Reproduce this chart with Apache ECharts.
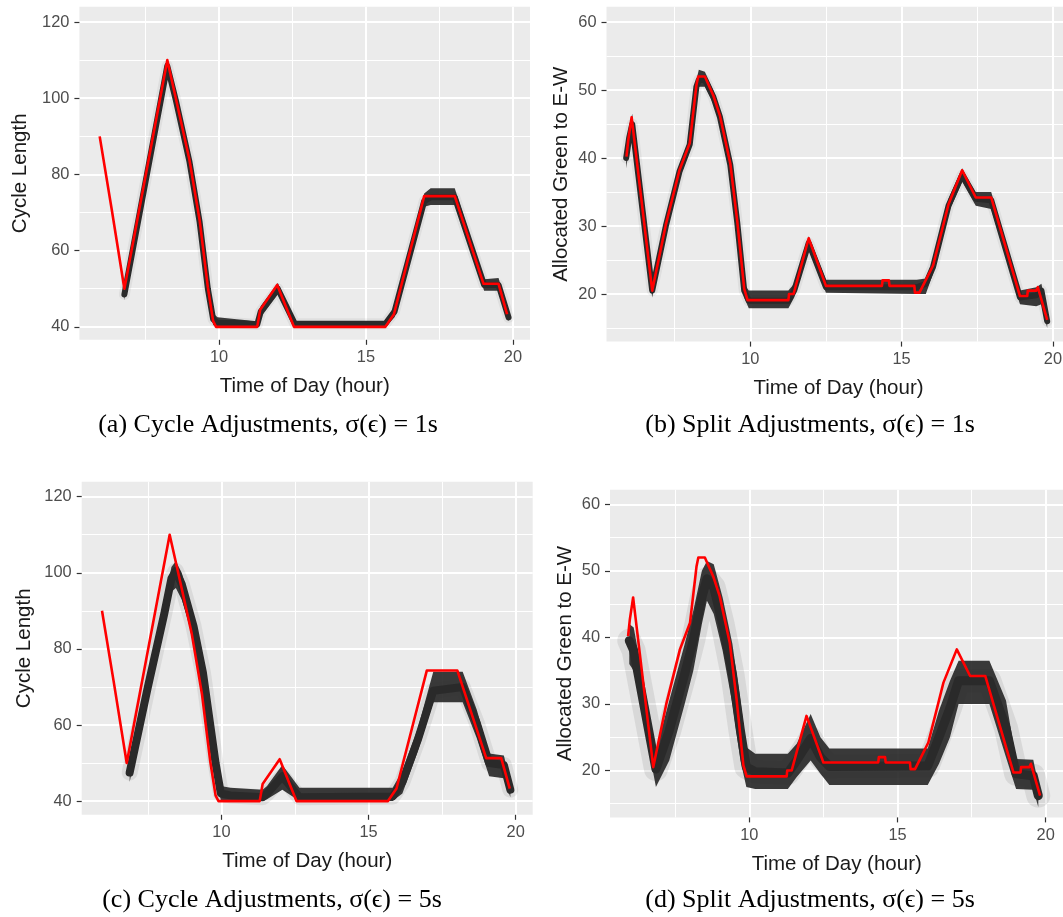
<!DOCTYPE html>
<html>
<head>
<meta charset="utf-8">
<title>Cycle and split adjustments</title>
<script src="https://cdn.jsdelivr.net/npm/echarts@6/dist/echarts.min.js"></script>
<style>
  html, body { margin: 0; padding: 0; background: #fff; }
  #chart { width: 1063px; height: 917px; }
</style>
</head>
<body>
<div id="chart"></div>
<script>
// red line: planned timing, same plan in (a)/(c) and in (b)/(d)
const cycleHour = [5.94, 6.35, 6.78, 8.24, 8.53, 8.99, 9.34, 9.62, 9.8, 9.9, 11.3, 11.4, 11.98, 12.55, 15.66, 15.95, 16.98, 18.02, 19.0, 19.51, 19.8]
const cycleRed = [90, 70.8, 50, 110, 100, 84, 68, 50.4, 41.5, 40, 40, 44.5, 51, 40, 40, 43.3, 74.3, 74.3, 51.3, 51.3, 43.3]

const splitHour = [5.91, 5.97, 6.08, 6.76, 7.21, 7.66, 8.0, 8.22, 8.28, 8.5, 8.78, 9.0, 9.34, 9.57, 9.8, 9.91, 11.26, 11.28, 11.43, 11.93, 12.5, 14.35, 14.37, 14.58, 14.6, 15.42, 15.44, 15.59, 15.76, 16.04, 16.55, 17.0, 17.45, 17.96, 18.91, 19.15, 19.17, 19.45, 19.5, 19.81]
const splitRed = [40.2, 42.7, 46, 20.5, 30.2, 38.2, 42.2, 50.7, 52, 52, 49.2, 46.2, 39.2, 30.7, 20.75, 19.1, 19.1, 20, 20, 28.2, 21.2, 21.2, 22, 22, 21.2, 21.2, 20.2, 20.2, 21.7, 24.2, 33.2, 38.2, 34.2, 34.2, 19.7, 19.7, 20.5, 20.5, 21, 16.2]

// black cloud of simulated runs: middle, lower and upper edge
const aHour = [6.78, 8.24, 8.53, 8.99, 9.34, 9.62, 9.8, 9.95, 10.6, 11.3, 11.42, 12.0, 12.58, 15.66, 15.97, 16.98, 17.2, 18.02, 19.02, 19.51, 19.85]
const aMid = [48.5, 108.5, 99.5, 83.5, 67.5, 50, 42, 41, 41, 40.6, 44, 50, 40.8, 40.8, 44, 73, 74, 74, 51, 51, 42.5]
const aLo = [47, 107, 98, 82, 66, 48.5, 40.5, 40, 40, 40, 42.5, 48.5, 40, 40, 42.5, 71.5, 72, 72, 49.5, 49.5, 41.5]
const aHi = [50, 110, 101, 85, 69, 51.5, 43.5, 42.5, 42, 41.5, 45.5, 51.5, 41.5, 41.5, 45.5, 75, 76.4, 76.4, 52.5, 52.8, 44]

const bHour = [5.9, 6.0, 6.1, 6.76, 7.21, 7.66, 8.0, 8.22, 8.3, 8.5, 8.78, 9.0, 9.34, 9.57, 9.8, 9.95, 11.26, 11.45, 11.93, 12.5, 15.5, 15.8, 16.04, 16.55, 17.0, 17.45, 17.96, 18.91, 19.45, 19.62, 19.81]
const bMid = [40, 43, 45, 20.5, 30, 38, 42, 50.5, 51.5, 51.5, 49, 46, 39, 30.5, 20.5, 19, 19, 20.5, 27.5, 21, 21, 21.5, 24, 33, 37.5, 34, 33.8, 19.5, 19.8, 20.5, 16]
const bLo = [38.5, 41.5, 43.5, 19.5, 29, 37, 41, 49.5, 50.5, 50.5, 48, 45, 38, 29.5, 19.5, 17.9, 17.9, 19.5, 26.5, 20.2, 20, 20, 23, 32, 36.5, 33, 32.5, 18.5, 18.2, 18.5, 15]
const bHi = [41.5, 44.5, 46.5, 21.5, 31, 39, 43, 51.5, 53, 52.7, 50, 47, 40, 31.5, 21.5, 20.5, 20.5, 21.5, 28.5, 22.1, 22.1, 22.3, 25, 34, 38.5, 35, 35, 20.5, 21, 21.5, 17]

const cHour = [6.88, 7.5, 8.05, 8.3, 8.45, 8.65, 9.05, 9.37, 9.62, 9.8, 9.98, 10.3, 11.4, 11.55, 12.07, 12.65, 15.82, 16.15, 16.67, 17.2, 18.2, 18.68, 19.1, 19.6, 19.82]
const cMid = [47.5, 70, 89, 98.5, 100.5, 97, 86, 73.8, 60, 50, 42, 41.5, 41, 42, 46.5, 41, 41.2, 45, 56, 69, 70, 60.5, 50, 49.5, 43]
const cLo = [45, 67, 86, 95, 96, 93, 83, 71, 57, 47, 40.2, 40, 40, 40.5, 43, 40, 40, 42, 53, 66, 66, 56.5, 46.5, 46, 41]
const cHi = [50, 73, 92, 101.5, 103, 100, 89, 77, 63, 53, 44, 43.5, 43, 44, 49.5, 43.5, 43.5, 48, 59, 74, 74, 64, 52.5, 52, 45]

const dHour = [5.95, 6.1, 6.85, 7.3, 7.82, 8.11, 8.4, 8.57, 8.8, 9.1, 9.43, 9.7, 9.9, 10.2, 11.3, 11.6, 12.07, 12.4, 12.7, 16.02, 16.4, 16.77, 17.06, 18.1, 18.66, 19.0, 19.58, 19.75]
const dMid = [39.5, 38, 20.2, 26, 34.5, 39.6, 46, 48.8, 47.5, 42, 34.5, 26, 20.5, 19.8, 19.6, 21.5, 24.8, 22, 20.6, 20.7, 25, 29.4, 33.5, 33.5, 26.4, 19.5, 19.2, 16.2]
const dLo = [36, 35, 17.5, 21.5, 30, 35, 42, 45.5, 43.5, 38, 30, 21.5, 17.5, 17.2, 17.2, 19, 21.5, 19.5, 17.8, 17.8, 21, 25, 30, 30, 22, 17.2, 17.1, 14.5]
const dHi = [42, 41.5, 23, 30.5, 39, 44, 50, 51.5, 51, 46, 39, 30.5, 23.5, 22.5, 22.5, 24, 28.5, 25, 23.3, 23.3, 29, 33.5, 36.5, 36.5, 30.5, 21.7, 21.6, 18]

// axis ticks
const hourTicks = [10, 15, 20]
const hourMinor = [7.5, 12.5, 17.5]
const cycleTicks = [40, 60, 80, 100, 120]
const cycleMinor = [50, 70, 90, 110]
const splitTicks = [20, 30, 40, 50, 60]
const splitMinor = [15, 25, 35, 45, 55]

const captions = [
  '(a) Cycle Adjustments, σ(ϵ) = 1s',
  '(b) Split Adjustments, σ(ϵ) = 1s',
  '(c) Cycle Adjustments, σ(ϵ) = 5s',
  '(d) Split Adjustments, σ(ϵ) = 5s'
]

const sans = "'Liberation Sans', Arial, sans-serif"
const serif = "'Liberation Serif', 'DejaVu Serif', serif"

const pts = (xs, ys) => xs.map((x, i) => [x, ys[i]])

// one entry per panel: layout + which data to use
const panels = [
  { grid: { left: 79.4, top: 6.8, width: 450.6, height: 333 }, x: [5.25, 20.58], y: [36.6, 124],
    yName: 'Cycle Length', yGap: 49, yTicks: cycleTicks, yMinor: cycleMinor,
    hour: cycleHour, red: cycleRed, bh: aHour, mid: aMid, lo: aLo, hi: aHi, core: 6, halo: 11, haloAlpha: 0.05,
    cap: [268, 425] },
  { grid: { left: 606.5, top: 6.8, width: 464, height: 334.8 }, x: [5.25, 20.58], y: [13, 62.25],
    yName: 'Allocated Green to E-W', yGap: 35, yTicks: splitTicks, yMinor: splitMinor,
    hour: splitHour, red: splitRed, bh: bHour, mid: bMid, lo: bLo, hi: bHi, core: 6, halo: 11, haloAlpha: 0.05,
    cap: [810, 425] },
  { grid: { left: 81.7, top: 481.8, width: 451, height: 333 }, x: [5.25, 20.58], y: [36.4, 123.9],
    yName: 'Cycle Length', yGap: 47, yTicks: cycleTicks, yMinor: cycleMinor,
    hour: cycleHour, red: cycleRed, bh: cHour, mid: cMid, lo: cLo, hi: cHi, core: 8, halo: 16, haloAlpha: 0.07,
    cap: [272, 900] },
  { grid: { left: 610, top: 489.7, width: 453.5, height: 327.7 }, x: [5.3, 20.6], y: [12.94, 62.2],
    yName: 'Allocated Green to E-W', yGap: 34, yTicks: splitTicks, yMinor: splitMinor,
    hour: splitHour, red: splitRed, bh: dHour, mid: dMid, lo: dLo, hi: dHi, core: 9, halo: 24, haloAlpha: 0.08,
    cap: [810, 900] }
]

const grids = [], xAxes = [], yAxes = [], series = []

panels.forEach((p, i) => {
  grids.push(Object.assign({ show: true, backgroundColor: '#ebebeb', borderWidth: 0, outerBoundsMode: 'none' }, p.grid))

  // major axis with labels
  xAxes.push({
    type: 'value', gridIndex: i, min: p.x[0], max: p.x[1],
    name: 'Time of Day (hour)', nameLocation: 'middle', nameGap: 36,
    nameTextStyle: { color: '#1a1a1a', fontSize: 20.5, fontFamily: sans },
    axisLine: { show: false },
    axisTick: { show: true, customValues: hourTicks, length: 5, lineStyle: { color: '#333', width: 1.2 } },
    axisLabel: { customValues: hourTicks, color: '#4d4d4d', fontSize: 16.4, fontFamily: sans, margin: 10 },
    splitLine: { show: true, lineStyle: { color: '#fff', width: 2 } }
  })
  // minor grid lines only
  xAxes.push({
    type: 'value', gridIndex: i, min: p.x[0], max: p.x[1], position: 'bottom',
    axisLine: { show: false },
    axisTick: { show: false, customValues: hourMinor },
    axisLabel: { show: false },
    splitLine: { show: true, lineStyle: { color: '#fff', width: 1 } }
  })
  yAxes.push({
    type: 'value', gridIndex: i, min: p.y[0], max: p.y[1],
    name: p.yName, nameLocation: 'middle', nameGap: p.yGap, nameRotate: 90,
    nameTextStyle: { color: '#1a1a1a', fontSize: 20.5, fontFamily: sans },
    axisLine: { show: false },
    axisTick: { show: true, customValues: p.yTicks, length: 5, lineStyle: { color: '#333', width: 1.2 } },
    axisLabel: { customValues: p.yTicks, color: '#4d4d4d', fontSize: 16.4, fontFamily: sans, margin: 10 },
    splitLine: { show: true, lineStyle: { color: '#fff', width: 2 } }
  })
  yAxes.push({
    type: 'value', gridIndex: i, min: p.y[0], max: p.y[1], position: 'left',
    axisLine: { show: false },
    axisTick: { show: false, customValues: p.yMinor },
    axisLabel: { show: false },
    splitLine: { show: true, lineStyle: { color: '#fff', width: 1 } }
  })

  const ax = { xAxisIndex: 2 * i, yAxisIndex: 2 * i, silent: true, animation: false }

  // faint halo of the runs
  series.push(Object.assign({
    type: 'line', symbol: 'none', data: pts(p.bh, p.mid), z: 2,
    lineStyle: { color: 'rgba(0,0,0,' + p.haloAlpha + ')', width: p.halo, join: 'round', cap: 'round' }
  }, ax))
  // band between lower and upper edge, one polygon through the axis scales
  series.push(Object.assign({
    type: 'custom', z: 3, clip: true,
    data: [[p.bh[0], p.mid[0]]],
    renderItem: (params, api) => {
      const upper = p.bh.map((h, k) => api.coord([h, p.hi[k]]))
      const lower = p.bh.map((h, k) => api.coord([h, p.lo[k]])).reverse()
      return {
        type: 'polygon',
        shape: { points: upper.concat(lower) },
        style: { fill: 'rgba(38,38,38,0.9)' }
      }
    }
  }, ax))
  // dense core
  series.push(Object.assign({
    type: 'line', symbol: 'none', data: pts(p.bh, p.mid), z: 4,
    lineStyle: { color: '#2a2a2a', width: p.core, join: 'round', cap: 'round' }
  }, ax))
  // red plan
  series.push(Object.assign({
    type: 'line', symbol: 'none', data: pts(p.hour, p.red), z: 5,
    lineStyle: { color: '#ff0000', width: 2.6, join: 'round' }
  }, ax))
})

const chart = echarts.init(document.getElementById('chart'), null, { renderer: 'canvas' })
chart.setOption({
  animation: false,
  backgroundColor: '#fff',
  grid: grids,
  xAxis: xAxes,
  yAxis: yAxes,
  series: series,
  graphic: panels.map((p, i) => ({
    type: 'text', x: p.cap[0], y: p.cap[1], silent: true,
    style: {
      text: captions[i], fill: '#000', font: '26px ' + serif,
      textAlign: 'center', textVerticalAlign: 'middle'
    }
  }))
})
</script>
</body>
</html>
